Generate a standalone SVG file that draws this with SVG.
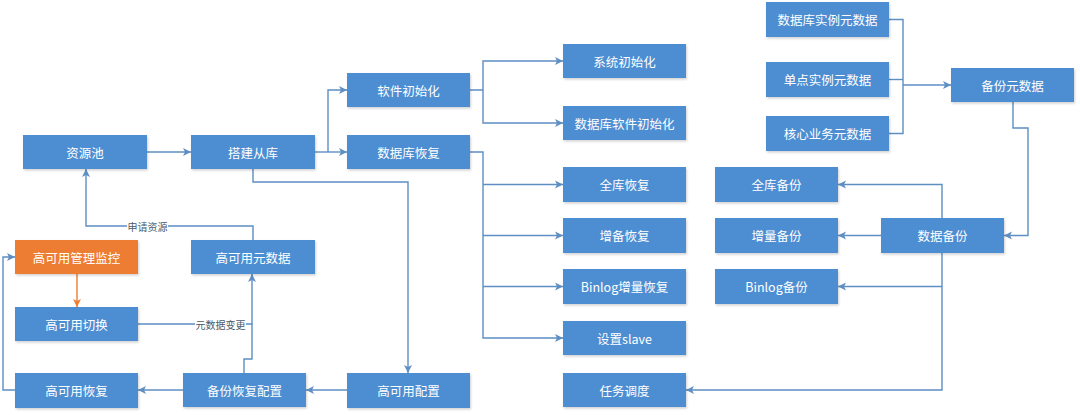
<svg xmlns="http://www.w3.org/2000/svg" width="1080" height="415" viewBox="0 0 1080 415">
<style>
.n{fill:#4E8ED2}
.o{fill:#ED7D31}
.t{fill:#fff;font-family:"Noto Sans CJK SC","Noto Sans",sans-serif;font-size:12.5px;text-anchor:middle;dominant-baseline:central}
.c{fill:none;stroke:#5E8EC2;stroke-width:1.4}
.co{fill:none;stroke:#ED7D31;stroke-width:1.4}
.l{fill:#4a5a6a;font-family:"Noto Sans CJK SC","Noto Sans",sans-serif;font-size:10px;text-anchor:middle;dominant-baseline:central}
.lb{fill:#fff}
</style>
<defs>
<filter id="sh" x="-10%" y="-10%" width="130%" height="140%">
<feDropShadow dx="1" dy="1.5" stdDeviation="1" flood-color="#000" flood-opacity="0.18"/>
</filter>
<marker id="a" markerWidth="9" markerHeight="9" refX="8" refY="4.5" orient="auto" markerUnits="userSpaceOnUse">
<path d="M0,0.5 L8,4.5 L0,8.5 L2,4.5 Z" fill="#5E8EC2"/>
</marker>
<marker id="ao" markerWidth="9" markerHeight="9" refX="8" refY="4.5" orient="auto" markerUnits="userSpaceOnUse">
<path d="M0,0.5 L8,4.5 L0,8.5 L2,4.5 Z" fill="#ED7D31"/>
</marker>
</defs>
<rect width="1080" height="415" fill="#fff"/>

<g id="connectors">
<path class="c" d="M147,152 H191" marker-end="url(#a)"/>
<path class="c" d="M315,152 H347" marker-end="url(#a)"/>
<path class="c" d="M328,152 V90 H347" marker-end="url(#a)"/>
<path class="c" d="M470,90 H483 V61 H563" marker-end="url(#a)"/>
<path class="c" d="M483,90 V123 H563" marker-end="url(#a)"/>
<path class="c" d="M470,152 H483 V338 H563" marker-end="url(#a)"/>
<path class="c" d="M483,184.5 H563" marker-end="url(#a)"/>
<path class="c" d="M483,235.5 H563" marker-end="url(#a)"/>
<path class="c" d="M483,286.5 H563" marker-end="url(#a)"/>
<path class="c" d="M253,169 V182 H408 V373" marker-end="url(#a)"/>
<path class="c" d="M347,390 H306" marker-end="url(#a)"/>
<path class="c" d="M183,390 H138" marker-end="url(#a)"/>
<path class="c" d="M15,390 H3 V257 H15" marker-end="url(#a)"/>
<path class="co" d="M77,274 V307" marker-end="url(#ao)"/>
<path class="c" d="M253,240 V226 H86 V169" marker-end="url(#a)"/>
<rect class="lb" x="127" y="219" width="41" height="14"/>
<text class="l" x="147.5" y="226">申请资源</text>
<path class="c" d="M138,324 H252 V274" marker-end="url(#a)"/>
<path class="c" d="M244,373 V359 H252 V324"/>
<rect class="lb" x="195" y="317" width="51" height="14"/>
<text class="l" x="220.5" y="324">元数据变更</text>
<path class="c" d="M889,19.5 H903 V133.5 H889"/>
<path class="c" d="M889,79.5 H903"/>
<path class="c" d="M903,85 H951" marker-end="url(#a)"/>
<path class="c" d="M1013,102 V128 H1028 V235.5 H1004" marker-end="url(#a)"/>
<path class="c" d="M942,218 V184.5 H838" marker-end="url(#a)"/>
<path class="c" d="M881,235.5 H838" marker-end="url(#a)"/>
<path class="c" d="M942,253 V390 H686" marker-end="url(#a)"/>
<path class="c" d="M942,286.5 H838" marker-end="url(#a)"/>
</g>

<g id="n_pool"><rect class="n" filter="url(#sh)" x="23" y="135" width="124" height="34"/><text class="t" x="85" y="152">资源池</text></g>
<g id="n_build"><rect class="n" filter="url(#sh)" x="191" y="135" width="124" height="34"/><text class="t" x="253" y="152">搭建从库</text></g>
<g id="n_swinit"><rect class="n" filter="url(#sh)" x="347" y="73" width="123" height="34"/><text class="t" x="408.5" y="90">软件初始化</text></g>
<g id="n_dbrec"><rect class="n" filter="url(#sh)" x="347" y="135" width="123" height="34"/><text class="t" x="408.5" y="152">数据库恢复</text></g>
<g id="n_sysinit"><rect class="n" filter="url(#sh)" x="563" y="44" width="123" height="34"/><text class="t" x="624.5" y="61">系统初始化</text></g>
<g id="n_dbswinit"><rect class="n" filter="url(#sh)" x="563" y="106" width="123" height="34"/><text class="t" x="624.5" y="123">数据库软件初始化</text></g>
<g id="n_fullrec"><rect class="n" filter="url(#sh)" x="563" y="167" width="123" height="35"/><text class="t" x="624.5" y="184.5">全库恢复</text></g>
<g id="n_increc"><rect class="n" filter="url(#sh)" x="563" y="218" width="123" height="35"/><text class="t" x="624.5" y="235.5">增备恢复</text></g>
<g id="n_binrec"><rect class="n" filter="url(#sh)" x="563" y="269" width="123" height="35"/><text class="t" x="624.5" y="286.5">Binlog增量恢复</text></g>
<g id="n_slave"><rect class="n" filter="url(#sh)" x="563" y="321" width="123" height="34"/><text class="t" x="624.5" y="338">设置slave</text></g>
<g id="n_sched"><rect class="n" filter="url(#sh)" x="563" y="373" width="123" height="34"/><text class="t" x="624.5" y="390">任务调度</text></g>
<g id="n_hamon"><rect class="o" filter="url(#sh)" x="15" y="240" width="123" height="34"/><text class="t" x="76.5" y="257">高可用管理监控</text></g>
<g id="n_hameta"><rect class="n" filter="url(#sh)" x="191" y="240" width="124" height="34"/><text class="t" x="253" y="257">高可用元数据</text></g>
<g id="n_haswitch"><rect class="n" filter="url(#sh)" x="15" y="307" width="123" height="34"/><text class="t" x="76.5" y="324">高可用切换</text></g>
<g id="n_harec"><rect class="n" filter="url(#sh)" x="15" y="373" width="123" height="35"/><text class="t" x="76.5" y="390.5">高可用恢复</text></g>
<g id="n_bkconf"><rect class="n" filter="url(#sh)" x="183" y="373" width="123" height="34"/><text class="t" x="244.5" y="390">备份恢复配置</text></g>
<g id="n_haconf"><rect class="n" filter="url(#sh)" x="347" y="373" width="123" height="35"/><text class="t" x="408.5" y="390.5">高可用配置</text></g>
<g id="n_inst"><rect class="n" filter="url(#sh)" x="766" y="2" width="123" height="35"/><text class="t" x="827.5" y="19.5">数据库实例元数据</text></g>
<g id="n_single"><rect class="n" filter="url(#sh)" x="766" y="62" width="123" height="35"/><text class="t" x="827.5" y="79.5">单点实例元数据</text></g>
<g id="n_core"><rect class="n" filter="url(#sh)" x="766" y="116" width="123" height="35"/><text class="t" x="827.5" y="133.5">核心业务元数据</text></g>
<g id="n_bkmeta"><rect class="n" filter="url(#sh)" x="951" y="68" width="123" height="34"/><text class="t" x="1012.5" y="85">备份元数据</text></g>
<g id="n_fullbk"><rect class="n" filter="url(#sh)" x="715" y="167" width="123" height="35"/><text class="t" x="776.5" y="184.5">全库备份</text></g>
<g id="n_incbk"><rect class="n" filter="url(#sh)" x="715" y="218" width="123" height="35"/><text class="t" x="776.5" y="235.5">增量备份</text></g>
<g id="n_binbk"><rect class="n" filter="url(#sh)" x="715" y="269" width="123" height="35"/><text class="t" x="776.5" y="286.5">Binlog备份</text></g>
<g id="n_databk"><rect class="n" filter="url(#sh)" x="881" y="218" width="123" height="35"/><text class="t" x="942.5" y="235.5">数据备份</text></g>
</svg>
